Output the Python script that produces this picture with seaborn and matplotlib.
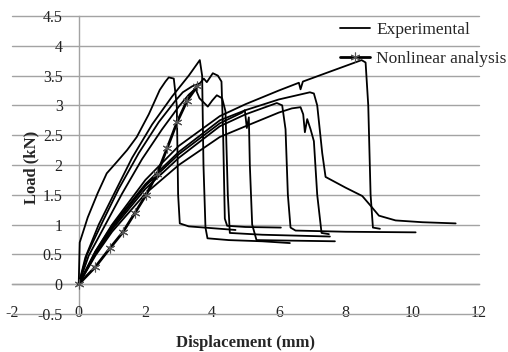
import numpy as np
import pandas as pd
import matplotlib
matplotlib.use("Agg")
import matplotlib.pyplot as plt
from matplotlib.lines import Line2D
import seaborn as sns

# ---- data ----
e1_x = [0, 0.03, 0.27, 0.57, 0.84, 1.14, 1.45, 1.74, 2.1, 2.43, 2.6, 2.7, 2.85, 2.94, 2.98, 3.03, 3.3, 4.0, 4.7]
e1_y = [0, 0.70, 1.12, 1.53, 1.86, 2.05, 2.25, 2.47, 2.85, 3.26, 3.40, 3.47, 3.45, 3.0, 1.5, 1.02, 0.97, 0.94, 0.91]

e2_x = [0, 0.2, 0.6, 1.0, 1.6, 2.2, 2.8, 3.3, 3.63, 3.70, 3.74, 3.80, 3.86, 4.5, 5.5, 6.33]
e2_y = [0, 0.45, 1.0, 1.45, 2.12, 2.68, 3.15, 3.5, 3.76, 3.5, 2.0, 0.95, 0.77, 0.74, 0.72, 0.69]

e3_x = [0, 0.25, 0.7, 1.2, 1.8, 2.4, 2.9, 3.12, 3.4, 3.63, 3.75, 3.84, 4.02, 4.17, 4.28, 4.33, 4.38, 4.45, 5.0, 6.06]
e3_y = [0, 0.50, 1.03, 1.6, 2.2, 2.72, 3.08, 3.22, 3.32, 3.37, 3.45, 3.39, 3.54, 3.50, 3.40, 2.5, 1.1, 0.98, 0.96, 0.95]

e4_x = [0, 0.3, 0.8, 1.3, 1.9, 2.5, 3.0, 3.3, 3.5, 3.62, 3.87, 4.0, 4.14, 4.3, 4.4, 4.47, 4.53, 5.5, 7.53]
e4_y = [0, 0.48, 1.0, 1.52, 2.1, 2.6, 2.98, 3.18, 3.28, 3.12, 2.98, 3.08, 3.17, 3.12, 2.9, 1.5, 0.86, 0.83, 0.80]

e5_x = [0, 0.5, 1.0, 2.0, 3.0, 4.23, 5.0, 6.0, 6.6, 6.65, 6.72, 7.5, 8.48, 8.6, 8.68, 8.75, 8.82, 9.03]
e5_y = [0, 0.55, 1.0, 1.75, 2.32, 2.82, 3.02, 3.25, 3.38, 3.27, 3.40, 3.56, 3.76, 3.72, 3.0, 1.5, 0.95, 0.93]

e6_x = [0, 0.5, 1.0, 2.0, 3.0, 4.23, 5.0, 6.0, 6.93, 7.05, 7.15, 7.3, 7.4, 8.0, 8.5, 8.73, 9.0, 9.5, 10.3, 11.3]
e6_y = [0, 0.55, 0.98, 1.68, 2.22, 2.75, 2.92, 3.10, 3.22, 3.20, 3.0, 2.2, 1.8, 1.62, 1.48, 1.33, 1.15, 1.07, 1.04, 1.02]

e7_x = [0, 0.5, 1.0, 2.0, 3.0, 4.23, 5.0, 6.0, 6.39, 6.65, 6.73, 6.78, 6.85, 6.95, 7.05, 7.15, 7.28, 7.5]
e7_y = [0, 0.48, 0.88, 1.52, 2.0, 2.47, 2.65, 2.88, 2.95, 2.97, 2.85, 2.55, 2.77, 2.6, 2.4, 1.5, 0.86, 0.84]

e8_x = [0, 0.5, 1.0, 2.0, 3.0, 4.23, 5.0, 5.94, 6.1, 6.2, 6.27, 6.35, 6.5, 8.0, 10.1]
e8_y = [0, 0.50, 0.92, 1.60, 2.12, 2.65, 2.85, 3.04, 3.0, 2.6, 1.5, 0.95, 0.90, 0.88, 0.87]

e9_x = [0, 0.5, 1.0, 2.0, 3.0, 4.23, 4.9, 4.98, 5.04, 5.1, 5.13, 5.2, 5.33, 6.5, 7.68]
e9_y = [0, 0.52, 0.95, 1.65, 2.18, 2.70, 2.88, 2.92, 2.62, 2.80, 2.0, 1.0, 0.74, 0.73, 0.72]

nl_x = [0, 0.5, 0.93, 1.32, 1.68, 2.01, 2.35, 2.65, 2.95, 3.25, 3.55]
nl_y = [0, 0.29, 0.60, 0.87, 1.19, 1.49, 1.85, 2.28, 2.72, 3.08, 3.32]

x_ticks = [-2, 0, 2, 4, 6, 8, 10, 12]
y_ticks = [-0.5, 0, 0.5, 1, 1.5, 2, 2.5, 3, 3.5, 4, 4.5]
y_tick_labels = ["-0.5", "0", "0.5", "1", "1.5", "2", "2.5", "3", "3.5", "4", "4.5"]
legend_labels = ["Experimental", "Nonlinear analysis"]

exp_curves = {"E1": (e1_x, e1_y), "E2": (e2_x, e2_y), "E3": (e3_x, e3_y),
              "E4": (e4_x, e4_y), "E5": (e5_x, e5_y), "E6": (e6_x, e6_y),
              "E7": (e7_x, e7_y), "E8": (e8_x, e8_y), "E9": (e9_x, e9_y)}

rows = []
for name, (xs, ys) in exp_curves.items():
    for i, (a, b) in enumerate(zip(xs, ys)):
        rows.append({"curve": name, "order": i, "x": a, "y": b})
df_exp = pd.DataFrame(rows)
df_nl = pd.DataFrame({"curve": "NL", "x": nl_x, "y": nl_y})

# ---- style ----
sns.set_style("white")
plt.rcParams["font.family"] = ["Liberation Serif", "DejaVu Serif"]

W, H = 508, 352
fig = plt.figure(figsize=(W / 100, H / 100), dpi=100)
ax = fig.add_axes([12 / W, 1 - 314 / H, 467 / W, 298 / H])

grid_c = "#a3a3a3"

sns.lineplot(data=df_exp, x="x", y="y", units="curve", estimator=None, sort=False,
             color="black", linewidth=1.3, ax=ax, legend=False)
sns.lineplot(data=df_nl, x="x", y="y", estimator=None, sort=False,
             color="black", linewidth=2.0, marker=(6, 2, 0), markersize=7,
             markeredgecolor="#555555", markeredgewidth=0.8, ax=ax, legend=False)

ax.set_xlim(-2, 12)
ax.set_ylim(-0.5, 4.5)
ax.set_xticks(x_ticks)
ax.set_xticklabels([str(t) for t in x_ticks])
ax.set_yticks(y_ticks)
ax.set_yticklabels(y_tick_labels)

for s in ["top", "right"]:
    ax.spines[s].set_visible(False)
ax.spines["left"].set_position(("data", 0))
ax.spines["bottom"].set_position(("data", 0))
for s in ["left", "bottom"]:
    ax.spines[s].set_color(grid_c)
    ax.spines[s].set_linewidth(1.0)
    ax.spines[s].set_zorder(0.5)

ax.yaxis.grid(True, color=grid_c, linewidth=1.0, zorder=0)
ax.xaxis.grid(False)
ax.set_axisbelow(True)
for gl in ax.yaxis.get_gridlines():
    gl.set_clip_on(False)

ax.tick_params(axis="x", direction="out", length=4, width=1.0, color=grid_c,
               pad=11, labelsize=11.5, labelcolor="#222222")
ax.tick_params(axis="y", length=0, pad=11.5, labelsize=11.5, labelcolor="#222222")
ax.set_xlabel("")
ax.set_ylabel("")

fig.text(245 / W, 1 - 343 / H, "Displacement (mm)", ha="center", va="center",
         fontsize=12, fontweight="bold")
fig.text(31 / W, 1 - 167 / H, "Load (kN)", ha="center", va="center",
         rotation=90, fontsize=12, fontweight="bold")

handles = [Line2D([], [], color="black", linewidth=1.3),
           Line2D([], [], color="black", linewidth=2.0, marker=(6, 2, 0), markersize=7,
                  markeredgecolor="#555555", markeredgewidth=0.8)]
fig.legend(handles, legend_labels, loc="upper left",
           bbox_to_anchor=(340 / W, 1 - 22 / H), frameon=False, fontsize=12.5,
           handlelength=1.75, handletextpad=0.35, labelspacing=0.75, borderpad=0,
           borderaxespad=0)

fig.savefig("out.png", dpi=100, facecolor="white")
